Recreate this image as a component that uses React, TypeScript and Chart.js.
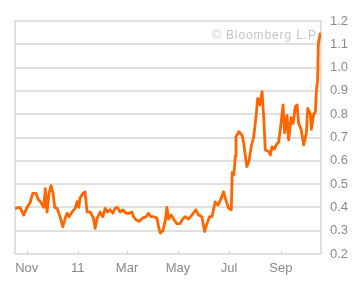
import React, { useEffect, useRef } from "react";
import { Chart, registerables } from "chart.js";

Chart.register(...registerables);

// Days since 18 Oct 2010
const days = [
  0, 6, 10.4, 14.4, 18, 21.2, 25.1, 27.5, 31.1, 34.4, 36.3, 38.3, 40.7, 43.1, 45.5, 47.5, 50.3, 54.3, 57.1, 60.2,
  62.3, 64.7, 68.3, 71.9, 74.3, 76.3, 77.8, 81.1, 83.8, 86.2, 90.2, 93.8, 95.8, 98.2, 101.8, 105, 107.8, 110.6, 113.8, 117,
  119.8, 122.5, 125.7, 129, 132.9, 136.9, 139.8, 141.7, 144.9, 148.9, 152.9, 156.9, 159.6, 162.5, 165.6, 169.7, 171.6, 173.7, 176.9, 179.6,
  181.7, 183.6, 186.8, 189.6, 193.6, 197.6, 200.4, 203.6, 207.5, 211.6, 216.4, 219.5, 223.6, 226.7, 229.6, 232.7, 235.6, 239.5, 242.8, 245.5,
  249.5, 251.5, 255.5, 258.7, 259.8, 261.8, 263.5, 264.3, 267.7, 271.7, 273.6, 277.2, 279.9, 282.8, 285.4, 288.6, 290.2, 292.6, 295.5, 297.4,
  299.4, 303.4, 305.4, 307.4, 310.2, 312.6, 315.3, 318.2, 320.6, 322.5, 325.4, 327.3, 330.2, 332.6, 335.3, 337.4, 339.3, 342.2, 345.3, 348.5,
  350.1, 353.3, 354.5, 357.2, 359.3, 360.5, 362, 362.9, 365.3,
];
const values = [
  0.396, 0.4, 0.367, 0.4, 0.42, 0.46, 0.46, 0.436, 0.42, 0.4, 0.48, 0.38, 0.46, 0.493, 0.46, 0.4, 0.396, 0.355, 0.317, 0.355,
  0.375, 0.36, 0.38, 0.396, 0.425, 0.4, 0.44, 0.46, 0.467, 0.38, 0.38, 0.353, 0.31, 0.353, 0.38, 0.36, 0.396, 0.38, 0.39, 0.375,
  0.396, 0.4, 0.38, 0.39, 0.375, 0.375, 0.38, 0.36, 0.346, 0.34, 0.355, 0.36, 0.375, 0.36, 0.36, 0.355, 0.32, 0.29, 0.3, 0.34,
  0.4, 0.35, 0.367, 0.35, 0.33, 0.33, 0.35, 0.36, 0.35, 0.367, 0.39, 0.367, 0.36, 0.296, 0.33, 0.36, 0.36, 0.424, 0.41, 0.43,
  0.467, 0.44, 0.396, 0.39, 0.55, 0.54, 0.62, 0.703, 0.725, 0.71, 0.675, 0.575, 0.6, 0.665, 0.7, 0.8, 0.868, 0.84, 0.897, 0.79,
  0.646, 0.64, 0.625, 0.66, 0.65, 0.67, 0.68, 0.76, 0.84, 0.72, 0.795, 0.69, 0.785, 0.76, 0.832, 0.84, 0.76, 0.735, 0.668, 0.72,
  0.825, 0.8, 0.735, 0.8, 0.81, 0.9, 0.947, 1.105, 1.15,
];
const tickDays = [14, 75, 134, 195, 256, 318];
const tickLabels = ["Nov", "11", "Mar", "May", "Jul", "Sep"];
const watermark = "© Bloomberg L.P";

const FONT = "'Liberation Sans', Arial, sans-serif";

export default function App() {
  const ref = useRef<HTMLCanvasElement>(null);
  useEffect(() => {
    if (!ref.current) return;
    const framePlugin = {
      id: "frame",
      beforeDatasetsDraw(chart: any) {
        const { ctx, chartArea: a, scales } = chart;
        ctx.save();
        ctx.strokeStyle = "#e0e0e0";
        ctx.lineWidth = 2;
        ctx.beginPath();
        ctx.moveTo(a.left, a.bottom);
        ctx.lineTo(a.left, a.top);
        ctx.lineTo(a.right, a.top);
        ctx.lineTo(a.right, a.bottom);
        ctx.stroke();
        ctx.strokeStyle = "#d0d0d0";
        ctx.lineWidth = 1;
        tickDays.forEach((d) => {
          const x = Math.round(scales.x.getPixelForValue(d)) + 0.5;
          ctx.beginPath();
          ctx.moveTo(x, a.bottom - 3);
          ctx.lineTo(x, a.bottom);
          ctx.stroke();
        });
        ctx.fillStyle = "#c4c4c4";
        ctx.font = `12px ${FONT}`;
        (ctx as any).letterSpacing = "0.9px";
        ctx.textAlign = "right";
        ctx.textBaseline = "alphabetic";
        ctx.fillText(watermark, a.right - 4, a.top + 18);
        ctx.restore();
      },
    };
    const chart = new Chart(ref.current, {
      type: "line",
      data: {
        datasets: [
          {
            data: days.map((d, i) => ({ x: d, y: values[i] })),
            borderColor: "#ff6600",
            borderWidth: 2.8,
            borderJoinStyle: "round",
            pointRadius: 0,
            tension: 0,
            fill: false,
          },
        ],
      },
      options: {
        animation: false,
        responsive: false,
        layout: { padding: { left: 15, top: 21, right: 0, bottom: 0 } },
        plugins: { legend: { display: false }, tooltip: { enabled: false } },
        scales: {
          x: {
            type: "linear",
            min: 0,
            max: 366,
            afterBuildTicks(axis: any) {
              axis.ticks = tickDays.map((v) => ({ value: v }));
            },
            afterFit(axis: any) {
              axis.height = 36;
            },
            grid: { display: false, drawTicks: false },
            border: { display: true, color: "#e0e0e0", width: 2 },
            ticks: {
              autoSkip: false,
              maxRotation: 0,
              padding: 7,
              color: "#8a8a8a",
              font: { family: FONT, size: 13 },
              callback: (v: any) => {
                const i = tickDays.indexOf(Number(v));
                return i >= 0 ? tickLabels[i] : "";
              },
            },
          },
          y: {
            position: "right",
            min: 0.2,
            max: 1.2,
            afterFit(axis: any) {
              axis.width = 42;
            },
            grid: { color: "#e0e0e0", lineWidth: 2, drawTicks: false },
            border: { display: false },
            ticks: {
              stepSize: 0.1,
              padding: 9,
              color: "#8a8a8a",
              font: { family: FONT, size: 13 },
            },
          },
        },
      },
      plugins: [framePlugin],
    } as any);
    return () => chart.destroy();
  }, []);
  return (
    <div style={{ position: "absolute", left: 0, top: 0, width: 363, height: 290, background: "#fff" }}>
      <canvas ref={ref} width={363} height={290} />
    </div>
  );
}
